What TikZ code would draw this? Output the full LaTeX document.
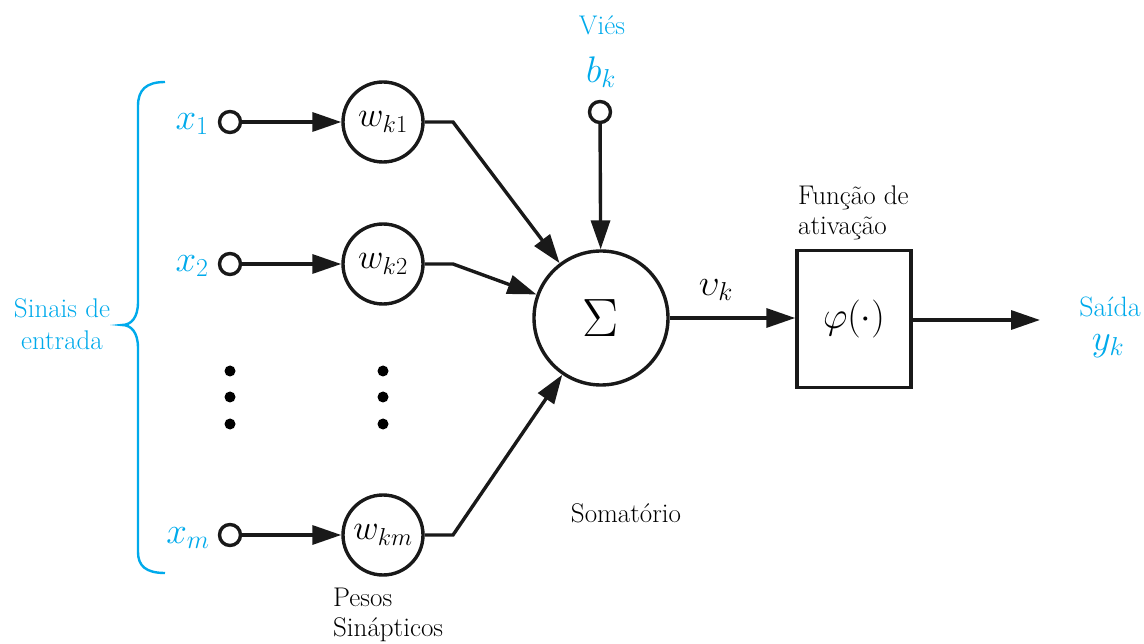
\RequirePackage{fix-cm}
\documentclass[tikz,border=0pt]{standalone}
\usepackage{fontspec}
\usetikzlibrary{arrows.meta}
\definecolor{sigblue}{RGB}{0,170,235}
\tikzset{
  ln/.style={line width=3.4pt, draw=black!90},
  arr/.style={ln, -{Triangle[length=29pt,width=19pt]}},
  term/.style={circle, ln, fill=white, minimum size=21pt, inner sep=0pt},
  wcirc/.style={circle, ln, minimum size=80pt, inner sep=0pt, font=\fontsize{35}{40}\selectfont},
  txt/.style={font=\fontsize{27}{30}\selectfont, inner sep=0pt},
  btxt/.style={txt, text=sigblue},
  bmath/.style={font=\fontsize{37}{44}\selectfont, text=sigblue, inner sep=0pt},
  dot/.style={circle, fill=black, minimum size=11pt, inner sep=0pt},
}
\begin{document}
\begin{tikzpicture}[x=1pt, y=-1pt]
\useasboundingbox (0,0) rectangle (1144,644);
% brace
\draw[sigblue, line width=2.4pt] (165,82) .. controls (146,82) and (138,90) .. (138,106) -- (138,302) .. controls (138,318) and (131,325) .. (122,325) .. controls (131,325) and (138,332) .. (138,348) -- (138,552) .. controls (138,566) and (146,573) .. (165,573);
\node[btxt, align=center, font=\fontsize{27}{32}\selectfont] (sinais) at (62,324) {Sinais de\\entrada};
% inputs
\node[term] (in1) at (230,122) {};
\node[term] (in2) at (230,264) {};
\node[term] (inm) at (230,535) {};
\node[bmath] (x1) at (192,124) {$x_1$};
\node[bmath] (x2) at (192,266) {$x_2$};
\node[bmath] (xm) at (188,538) {$x_m$};
% weights
\node[wcirc] (w1) at (383,122) {$w_{k1}$};
\node[wcirc] (w2) at (383,264) {$w_{k2}$};
\node[wcirc] (wm) at (383,535) {$w_{km}$};
\node[txt, align=left, anchor=north west] (pesos) at (333,588) {Pesos\\Sinápticos};
% dots
\node[dot] (d1) at (230,371) {};
\node[dot] (d2) at (230,397) {};
\node[dot] (d3) at (230,424) {};
\node[dot] (d4) at (383,371) {};
\node[dot] (d5) at (383,397) {};
\node[dot] (d6) at (383,424) {};
% sum
\node[circle, ln, minimum size=134pt, inner sep=0pt, font=\fontsize{54}{58}\selectfont] (sum) at (601,318) {$\Sigma$};
\node[txt] (soma) at (626,513) {Somatório};
% bias
\node[term] (bias) at (600,112) {};
\node[bmath] (bk) at (601,72) {$b_k$};
\node[btxt] (vies) at (602,25) {Viés};
% activation box
\node[draw, ln, minimum width=114pt, minimum height=137pt, inner sep=0pt, font=\fontsize{38}{42}\selectfont] (phi) at (854,319) {$\varphi(\cdot)$};
\node[txt, align=left, anchor=west] (func) at (798,213) {Função de\\ativação};
\node[font=\fontsize{37}{44}\selectfont, inner sep=0pt] (vk) at (716,290) {$\upsilon_k$};
% output
\coordinate (out) at (1040,320);
\node[btxt, font=\fontsize{28}{30}\selectfont] (saida) at (1110,307) {Saída};
\node[bmath] (yk) at (1108,346) {$y_k$};
% connectors
\coordinate (e1) at (453,122);
\coordinate (e2) at (453,264);
\coordinate (em) at (453,535);
\draw[arr] (in1) -- (w1);
\draw[arr] (in2) -- (w2);
\draw[arr] (inm) -- (wm);
\draw[arr] (w1) -- (e1) -- (sum);
\draw[arr] (w2) -- (e2) -- (sum);
\draw[arr] (wm) -- (em) -- (sum);
\draw[arr] (bias) -- (sum);
\draw[arr] (sum.east) -- (phi.west |- sum.east);
\draw[arr] (phi.east |- out) -- (out);
\end{tikzpicture}
\end{document}
